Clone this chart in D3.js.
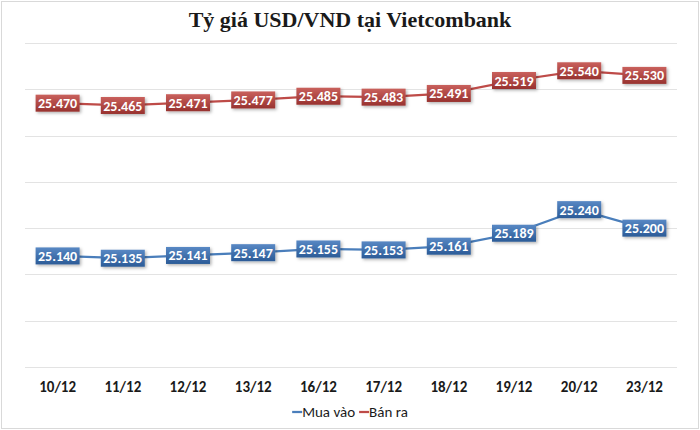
<!DOCTYPE html>
<html>
<head>
<meta charset="utf-8">
<script src="https://cdn.jsdelivr.net/npm/d3@7"></script>
<style>
  body { margin: 0; background: #fff; }
  svg { display: block; }
</style>
</head>
<body>
<svg id="chart" width="700" height="430"></svg>
<script>
// data
var days = ['10/12', '11/12', '12/12', '13/12', '16/12', '17/12', '18/12', '19/12', '20/12', '23/12'];
var muaVao = [25140, 25135, 25141, 25147, 25155, 25153, 25161, 25189, 25240, 25200];
var banRa = [25470, 25465, 25471, 25477, 25485, 25483, 25491, 25519, 25540, 25530];
var seriesNames = ['Mua vào', 'Bán ra'];
var yTicks = [24900, 25000, 25100, 25200, 25300, 25400, 25500, 25600];

var W = 700, H = 430;
var plotLeft = 25, plotRight = 677, plotTop = 43, plotBottom = 367;
var labelFont = "Carlito, 'Liberation Sans Narrow', 'Liberation Sans', sans-serif";

var svg = d3.select('#chart');

var x = d3.scaleBand().domain(days).range([plotLeft, plotRight]);
var y = d3.scaleLinear().domain([24900, 25600]).range([plotBottom, plotTop]);

var fmt = function(v) {
    return d3.format(',')(v).replace(/,/g, '.');
};

// outer border
svg.append('rect')
    .attr('x', 1.5).attr('y', 1.5)
    .attr('width', W - 3).attr('height', H - 3)
    .attr('fill', '#fff')
    .attr('stroke', '#d9d9d9');

var defs = svg.append('defs');
var grads = [
    { id: 'gBlue', top: '#5888c4', bottom: '#2b5b97' },
    { id: 'gRed', top: '#c9605c', bottom: '#98322f' }
];
grads.forEach(function(g) {
    var lg = defs.append('linearGradient').attr('id', g.id)
        .attr('x1', 0).attr('y1', 0).attr('x2', 0).attr('y2', 1);
    lg.append('stop').attr('offset', '0%').attr('stop-color', g.top);
    lg.append('stop').attr('offset', '100%').attr('stop-color', g.bottom);
});
var shadow = defs.append('filter').attr('id', 'shadow')
    .attr('x', '-20%').attr('y', '-30%').attr('width', '150%').attr('height', '180%');
shadow.append('feDropShadow')
    .attr('dx', 1.5).attr('dy', 1.5).attr('stdDeviation', 1.5)
    .attr('flood-color', '#000').attr('flood-opacity', 0.3);

// title
svg.append('text')
    .attr('x', W / 2).attr('y', 27)
    .attr('text-anchor', 'middle')
    .style('font-family', "'Liberation Serif', 'DejaVu Serif', serif")
    .style('font-weight', 'bold')
    .style('font-size', '22px')
    .style('fill', '#1a1a1a')
    .text('Tỷ giá USD/VND tại Vietcombank');

// gridlines
svg.append('g').selectAll('line')
    .data(yTicks)
    .enter().append('line')
    .attr('x1', plotLeft).attr('x2', plotRight)
    .attr('y1', function(d) { return Math.round(y(d)) + 0.5; })
    .attr('y2', function(d) { return Math.round(y(d)) + 0.5; })
    .attr('stroke', '#e3e3e3')
    .attr('stroke-width', 1);

// x axis labels
var xAxis = svg.append('g')
    .attr('transform', 'translate(0,' + plotBottom + ')')
    .call(d3.axisBottom(x).tickSize(0).tickPadding(14));
xAxis.select('.domain').remove();
xAxis.selectAll('text')
    .style('font-family', labelFont)
    .style('font-weight', 'bold')
    .style('font-size', '15px')
    .style('fill', '#1a1a1a');

var series = [
    { name: seriesNames[0], values: muaVao, color: '#4a7ebb', grad: 'gBlue' },
    { name: seriesNames[1], values: banRa, color: '#be4b48', grad: 'gRed' }
];

var line = d3.line()
    .x(function(d, i) { return x(days[i]) + x.bandwidth() / 2; })
    .y(function(d) { return y(d); });

series.forEach(function(s) {
    svg.append('path')
        .datum(s.values)
        .attr('d', line)
        .attr('fill', 'none')
        .attr('stroke', s.color)
        .attr('stroke-width', 2.25);

    var lbl = svg.append('g').selectAll('g')
        .data(s.values)
        .enter().append('g')
        .attr('transform', function(d, i) {
            return 'translate(' + (x(days[i]) + x.bandwidth() / 2) + ',' + y(d) + ')';
        });
    lbl.append('rect')
        .attr('x', -22).attr('y', -8.5)
        .attr('width', 44).attr('height', 17)
        .attr('fill', 'url(#' + s.grad + ')')
        .attr('filter', 'url(#shadow)');
    lbl.append('text')
        .attr('text-anchor', 'middle')
        .attr('dy', '0.36em')
        .style('font-family', labelFont)
        .style('font-weight', 'bold')
        .style('font-size', '14px')
        .style('fill', '#fff')
        .text(function(d) { return fmt(d); });
});

// legend
var legend = svg.append('g');
var lx = 0;
series.forEach(function(s, i) {
    var g = legend.append('g').attr('transform', 'translate(' + lx + ',0)');
    g.append('line')
        .attr('x1', 0).attr('x2', 10)
        .attr('stroke', s.color).attr('stroke-width', 2.25);
    var t = g.append('text')
        .attr('x', 10).attr('dy', '0.35em')
        .style('font-family', labelFont)
        .style('font-size', '15px')
        .style('fill', '#1a1a1a')
        .text(s.name);
    lx += 10 + t.node().getComputedTextLength() + 4;
});
legend.attr('transform', 'translate(' + (W / 2 - (lx - 4) / 2) + ',412)');
</script>
</body>
</html>
